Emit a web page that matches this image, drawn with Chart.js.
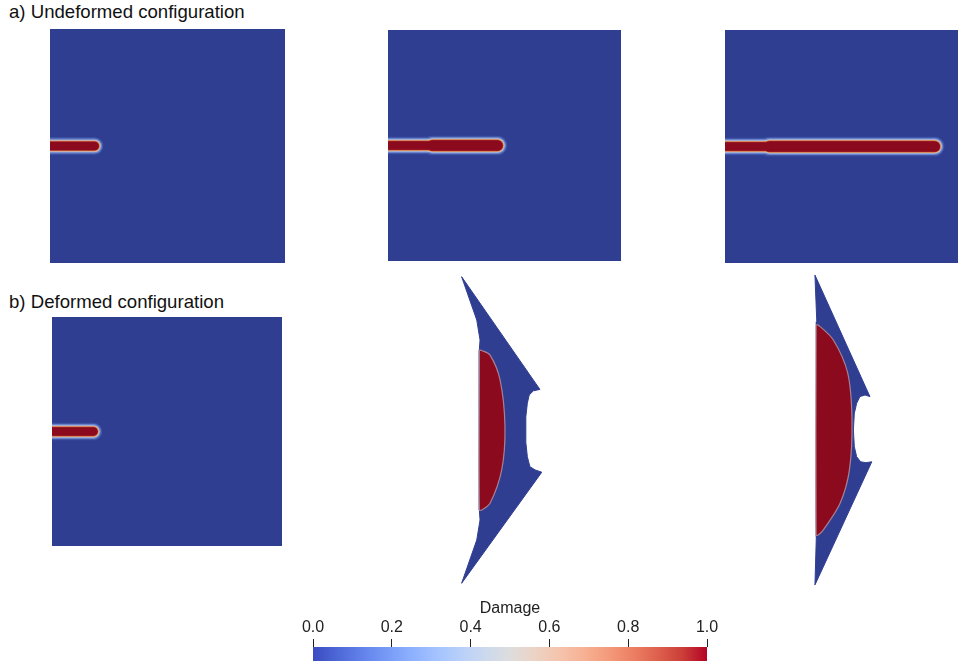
<!DOCTYPE html>
<html>
<head>
<meta charset="utf-8">
<script src="https://cdn.jsdelivr.net/npm/chart.js@4.4.1/dist/chart.umd.min.js"></script>
<style>
body { margin:0; background:#fff; width:968px; height:670px; position:relative; overflow:hidden;
       font-family:"Liberation Sans", Arial, sans-serif; }
.lbl { position:absolute; font-size:18.6px; line-height:18px; color:#111; white-space:nowrap; }
canvas { position:absolute; }
</style>
</head>
<body>
<div class="lbl" style="left:9px;top:3px">a) Undeformed configuration</div>
<div class="lbl" style="left:9px;top:293px">b) Deformed configuration</div>
<canvas id="a1" width="235" height="234" style="left:50px;top:29px"></canvas>
<canvas id="a2" width="233" height="231" style="left:388px;top:30px"></canvas>
<canvas id="a3" width="233" height="233" style="left:725px;top:30px"></canvas>
<canvas id="b1" width="230" height="229" style="left:52px;top:317px"></canvas>
<canvas id="b2" width="233" height="320" style="left:388px;top:270px"></canvas>
<canvas id="b3" width="233" height="320" style="left:725px;top:270px"></canvas>
<canvas id="bar" width="480" height="67" style="left:270px;top:599px"></canvas>
<script>
// plate: x from notch edge, y from crack line (plate size 1)
var squareX = [0, 1, 1, 0, 0];
var squareY = [-0.5, -0.5, 0.5, 0.5, -0.5];

// crack lengths
var notchLength = 0.19;
var crackTipsA = [0.19, 0.47, 0.90];
var crackTipB1 = 0.18;

// deformed plate, step 2
var shapeB2X = [0.316, 0.381, 0.395, 0.392, 0.392, 0.395, 0.381, 0.316,
                0.660, 0.631, 0.609, 0.598, 0.592, 0.591, 0.592, 0.598, 0.606, 0.624, 0.652, 0.316];
var shapeB2Y = [0.661, 0.474, 0.388, 0.345, -0.345, -0.388, -0.474, -0.661,
                -0.182, -0.172, -0.158, -0.115, -0.057, 0, 0.057, 0.115, 0.151, 0.169, 0.175, 0.661];
var damageB2X = [0.392, 0.402, 0.438, 0.481, 0.502, 0.488, 0.438, 0.402, 0.392, 0.392];
var damageB2Y = [0.345, 0.343, 0.323, 0.216, 0.014, -0.172, -0.316, -0.345, -0.345, 0.345];

// deformed plate, step 3
var shapeB3X = [0.386, 0.394, 0.391, 0.391, 0.394, 0.386,
                0.630, 0.605, 0.582, 0.565, 0.555, 0.551, 0.555, 0.565, 0.579, 0.601, 0.622, 0.386];
var shapeB3Y = [0.668, 0.467, 0.453, -0.453, -0.460, -0.668,
                -0.137, -0.141, -0.137, -0.115, -0.072, 0, 0.072, 0.115, 0.144, 0.151, 0.144, 0.668];
var damageB3X = [0.391, 0.400, 0.465, 0.527, 0.545, 0.534, 0.494, 0.422, 0.400, 0.391, 0.391];
var damageB3Y = [0.453, 0.453, 0.388, 0.244, 0.043, -0.172, -0.316, -0.431, -0.453, -0.453, 0.453];

// colour bar
var barStops = [0, 0.0625, 0.125, 0.1875, 0.25, 0.3125, 0.375, 0.4375, 0.5, 0.5625, 0.625, 0.6875, 0.75, 0.8125, 0.875, 0.9375, 1];
var barColors = ['rgb(59,76,192)', 'rgb(77,104,215)', 'rgb(98,130,234)', 'rgb(119,154,247)', 'rgb(141,176,254)',
                 'rgb(163,194,255)', 'rgb(184,208,249)', 'rgb(204,217,238)', 'rgb(221,221,221)', 'rgb(236,211,197)',
                 'rgb(245,196,173)', 'rgb(247,177,148)', 'rgb(244,154,123)', 'rgb(236,127,99)', 'rgb(222,96,77)',
                 'rgb(203,62,56)', 'rgb(180,4,38)'];
var barTicks = [0, 0.2, 0.4, 0.6, 0.8, 1.0];

var BLUE = '#2f3e91';
var RED = '#8c0a1e';

function pts(xs, ys) {
    return xs.map(function(x, i) { return {x: x, y: ys[i]}; });
}

function plate(xs, ys) {
    return { data: pts(xs, ys), fill: 'shape', backgroundColor: BLUE, borderColor: BLUE,
             borderWidth: 1, order: 10 };
}

function damage(xs, ys) {
    return { data: pts(xs, ys), fill: 'shape', backgroundColor: RED, borderColor: 'rgba(190,150,160,0.8)',
             borderWidth: 1.2, tension: 0.3, order: 6 };
}

// crack drawn as stacked round-capped strokes (soft halo -> core)
function crack(tip) {
    var halo = [[9, '#3f55a8'], [6.5, '#6a83cc'], [4, '#b8bfd0'], [2.5, '#e0a070'], [1, '#c0402f'], [0, RED]];
    var sets = [];
    halo.forEach(function(l, i) {
        var end = Math.min(tip, notchLength);
        sets.push({ data: [{x: 0, y: 0}, {x: end, y: 0}], borderColor: l[1], borderWidth: 8.5 + l[0],
                    borderCapStyle: 'round', fill: false, order: 5 - i });
        if (tip > notchLength) {
            sets.push({ data: [{x: notchLength, y: 0}, {x: tip, y: 0}], borderColor: l[1],
                        borderWidth: 10.5 + l[0], borderCapStyle: 'round', fill: false, order: 5 - i });
        }
    });
    return sets;
}

function panel(id, datasets, yMin, yMax) {
    new Chart(document.getElementById(id), {
        type: 'line',
        data: { datasets: datasets },
        options: {
            responsive: false,
            animation: false,
            events: [],
            layout: { padding: 0 },
            plugins: { legend: { display: false }, tooltip: { enabled: false } },
            elements: { point: { radius: 0 }, line: { tension: 0 } },
            scales: {
                x: { type: 'linear', display: false, min: 0, max: 1 },
                y: { type: 'linear', display: false, min: yMin, max: yMax }
            }
        }
    });
}

panel('a1', [plate(squareX, squareY)].concat(crack(crackTipsA[0])), -0.5, 0.5);
panel('a2', [plate(squareX, squareY)].concat(crack(crackTipsA[1])), -0.5, 0.5);
panel('a3', [plate(squareX, squareY)].concat(crack(crackTipsA[2])), -0.5, 0.5);
panel('b1', [plate(squareX, squareY)].concat(crack(crackTipB1)), -0.5, 0.5);
panel('b2', [plate(shapeB2X, shapeB2Y), damage(damageB2X, damageB2Y)], -0.69, 0.69);
panel('b3', [plate(shapeB3X, shapeB3Y), damage(damageB3X, damageB3Y)], -0.69, 0.69);

// colour bar
new Chart(document.getElementById('bar'), {
    type: 'line',
    data: {
        datasets: [{
            data: [{x: 0, y: 1}, {x: 1, y: 1}],
            fill: 'origin',
            borderWidth: 0,
            pointRadius: 0,
            backgroundColor: function(ctx) {
                var area = ctx.chart.chartArea;
                if (!area) return barColors[0];
                var g = ctx.chart.ctx.createLinearGradient(area.left, 0, area.right, 0);
                barStops.forEach(function(s, i) { g.addColorStop(s, barColors[i]); });
                return g;
            }
        }]
    },
    options: {
        responsive: false,
        animation: false,
        events: [],
        layout: { padding: { left: 43, right: 43, top: 0, bottom: 5 } },
        plugins: { legend: { display: false }, tooltip: { enabled: false } },
        scales: {
            x: {
                type: 'linear', position: 'top', min: 0, max: 1,
                afterBuildTicks: function(s) { s.ticks = barTicks.map(function(v) { return {value: v}; }); },
                afterFit: function(s) { s.height = 48; },
                ticks: {
                    callback: function(v) { return v.toFixed(1); },
                    font: { family: '"Liberation Sans", Arial, sans-serif', size: 16 },
                    color: '#222', padding: 2, maxRotation: 0, autoSkip: false
                },
                grid: { drawOnChartArea: false, drawTicks: true, tickLength: 8, color: '#222' },
                border: { display: false },
                title: {
                    display: true, text: 'Damage', color: '#222',
                    font: { family: '"Liberation Sans", Arial, sans-serif', size: 16 },
                    padding: { top: 0, bottom: 0 }
                }
            },
            y: { type: 'linear', display: false, min: 0, max: 1 }
        }
    }
});
</script>
</body>
</html>
